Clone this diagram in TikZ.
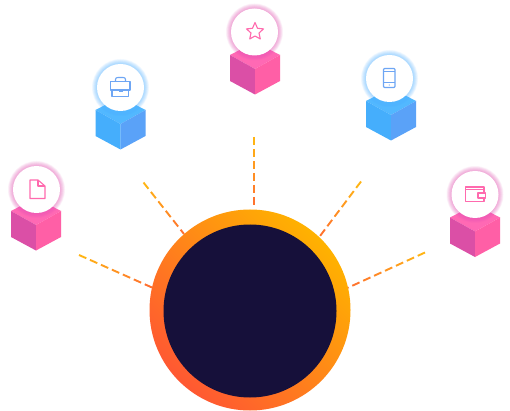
\documentclass[tikz,border=0pt]{standalone}
\usetikzlibrary{calc}
\definecolor{spokeO}{HTML}{FFB414}
\definecolor{spokeI}{HTML}{FF6A32}
\definecolor{pinkL}{HTML}{DB4FA6}
\definecolor{pinkR}{HTML}{FF5FA6}
\definecolor{pinkT}{HTML}{FF69B4}
\definecolor{pinkI}{HTML}{FF6AAE}
\definecolor{pinkG}{HTML}{E650B4}
\definecolor{blueL}{HTML}{45AEFC}
\definecolor{blueR}{HTML}{5AA2F8}
\definecolor{blueT}{HTML}{52B8FF}
\definecolor{blueI}{HTML}{6EA6F4}
\definecolor{blueG}{HTML}{4FB4FF}
\definecolor{hubA}{HTML}{FF5832}
\definecolor{hubB}{HTML}{FFB200}
\definecolor{hubC}{HTML}{16103A}
\tikzset{
  spokedash/.style={line width=1.9pt},
  iconline/.style={line width=1.1pt,line join=round},
}
% dashed spoke whose colour runs from outer end to hub end
\newcommand{\spokeline}[3]{%
\foreach \k in {0,...,7}{%
  \pgfmathsetmacro{\ta}{min(1,\k*12/#3)}
  \pgfmathsetmacro{\tb}{min(1,(\k*12+8)/#3)}
  \pgfmathtruncatemacro{\pc}{100*\ta}
  \ifdim\ta pt<1pt
    \draw[spokedash,spokeI!\pc!spokeO] ($(#1)!\ta!(#2)$) -- ($(#1)!\tb!(#2)$);
  \fi
}}
\newcommand{\cubeicon}[5]{%
\begin{scope}[shift={(#1,#2)}]
  \fill[#5] (-25,22) -- (0,9) -- (25,22) -- (0,36) -- cycle;
  \fill[#3] (-25,22) -- (0,36) -- (0,61.5) -- (-25,48) -- cycle;
  \fill[#4] (25,22) -- (0,36) -- (0,61.5) -- (25,48) -- cycle;
\end{scope}}
\newcommand{\halo}[3]{%
\foreach \rr in {28.5,28,...,24}{\fill[#3,opacity=.06] (#1,#2) circle[radius=\rr];}
\fill[white] (#1,#2) circle[radius=23.5];}
\begin{document}
\begin{tikzpicture}[x=1pt,y=-1pt]
\useasboundingbox (0,0) rectangle (510,411);
\fill[white] (0,0) rectangle (510,411);
% spokes
\coordinate (a1) at (79,255); \coordinate (b1) at (152,287.5);
\coordinate (a2) at (143.5,182.5); \coordinate (b2) at (184,234);
\coordinate (a3) at (254,137); \coordinate (b3) at (254,205);
\coordinate (a4) at (361,181.5); \coordinate (b4) at (320,236);
\coordinate (a5) at (425,252.5); \coordinate (b5) at (348,287.7);
\spokeline{a1}{b1}{79.9}
\spokeline{a2}{b2}{65.5}
\spokeline{a3}{b3}{68}
\spokeline{a4}{b4}{68.2}
\spokeline{a5}{b5}{84.7}
% hub
\node[circle,minimum size=201pt,inner sep=0pt,outer sep=0pt,shading=axis,left color=hubB,right color=hubA,shading angle=-45] (hub) at (250,310) {};
\node[circle,minimum size=173pt,inner sep=0pt,outer sep=0pt,fill=hubC] (core) at (250,311) {};
% cubes
\cubeicon{36}{189}{pinkL}{pinkR}{pinkT}
\cubeicon{120.5}{88}{blueL}{blueR}{blueT}
\cubeicon{255}{33}{pinkL}{pinkR}{pinkT}
\cubeicon{391}{79}{blueL}{blueR}{blueT}
\cubeicon{475}{195.5}{pinkL}{pinkR}{pinkT}
% badges
\halo{36.5}{189.5}{pinkG}
\halo{120.5}{87.5}{blueG}
\halo{254.5}{32}{pinkG}
\halo{389.5}{78.5}{blueG}
\halo{475}{194.5}{pinkG}
% document
\draw[iconline,pinkI] (30,180) -- (38,180) -- (45,186) -- (45,198.5) -- (30,198.5) -- cycle;
\draw[iconline,pinkI] (38,180) -- (38,186) -- (45,186);
% briefcase
\draw[iconline,blueI] (110.5,81.5) rectangle (130,90);
\draw[iconline,blueI] (112,90) -- (112,96.5) -- (128.5,96.5) -- (128.5,90);
\draw[iconline,blueI] (115.5,81.5) -- (115.5,79.5) .. controls (115.5,78) and (116.5,77.5) .. (118,77.5) -- (123,77.5) .. controls (124.5,77.5) and (125.5,78) .. (125.5,79.5) -- (125.5,81.5);
\fill[blueI] (118.5,91) rectangle (122.5,92.5);
% star
\draw[iconline,pinkI] (255,22.5) -- (257.5,28.3) -- (263.5,28.9) -- (259,33) -- (260.3,39) -- (255,36) -- (249.7,39) -- (251,33) -- (246.5,28.9) -- (252.5,28.3) -- cycle;
% phone
\draw[iconline,blueI,rounded corners=1pt] (383.5,68.5) rectangle (395,87.5);
\draw[iconline,blueI] (383.5,71.5) -- (395,71.5) (383.5,82.5) -- (395,82.5);
\fill[blueI] (389.2,85) circle[radius=0.7];
% wallet
\draw[iconline,pinkI] (484,193) -- (484,187) -- (465.5,187) -- (465.5,201.5) -- (484,201.5) -- (484,198);
\draw[iconline,pinkI] (465.5,189.5) -- (484,189.5);
\draw[iconline,pinkI] (485.5,193) -- (478,193) -- (478,198) -- (485.5,198) -- cycle;
\end{tikzpicture}
\end{document}
